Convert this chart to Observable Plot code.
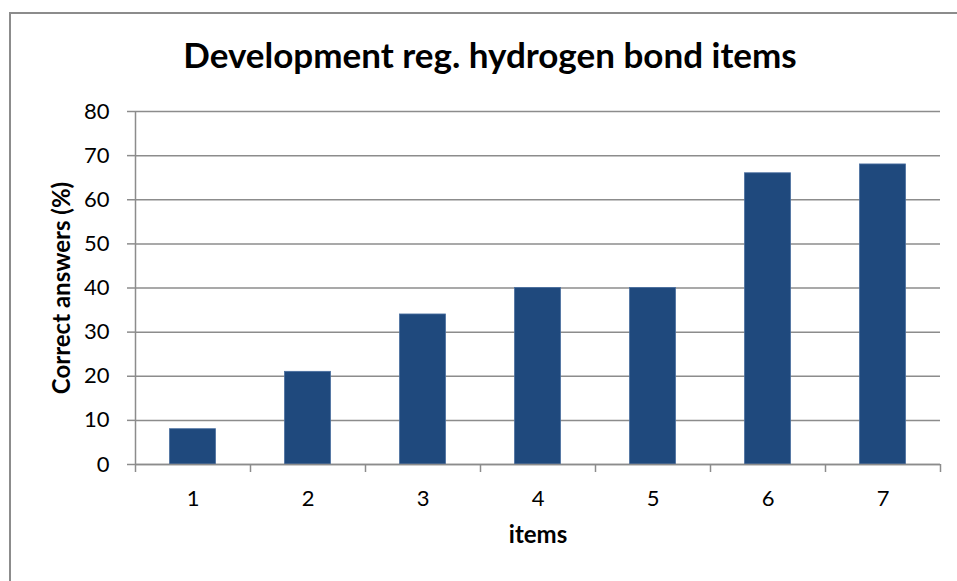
<!DOCTYPE html>
<html>
<head>
<meta charset="utf-8">
<script src="https://cdn.jsdelivr.net/npm/d3@7"></script>
<script src="https://cdn.jsdelivr.net/npm/@observablehq/plot@0.6"></script>
<style>
  html, body { margin: 0; padding: 0; background: #fff; overflow: hidden; }
  #wrap { position: relative; width: 957px; height: 581px; font-family: Lato, "Open Sans", sans-serif; }
  #border { position: absolute; left: 9px; top: 12px; width: 1000px; height: 1000px; border: 2px solid #8c8c8c; box-sizing: border-box; }
  #title { position: absolute; left: 0; width: 980px; top: 33px; text-align: center; font-size: 35px; line-height: 42px; font-weight: bold; color: #000; }
  #chart { position: absolute; left: 0; top: 0; }
</style>
</head>
<body>
<div id="wrap">
  <div id="border"></div>
  <div id="title">Development reg. hydrogen bond items</div>
  <div id="chart"></div>
</div>
<script>
const items = [1, 2, 3, 4, 5, 6, 7];
const correct = [8, 21, 34, 40, 40, 66, 68];
const yTicks = [0, 10, 20, 30, 40, 50, 60, 70, 80];
const xBoundaries = [0.5, 1.5, 2.5, 3.5, 4.5, 5.5, 6.5, 7.5];
const yLabel = "Correct answers (%)";
const xLabel = "items";

const data = items.map((d, i) => ({item: d, value: correct[i]}));
const grid = "#8c8c8c";

const chart = Plot.plot({
  width: 957,
  height: 581,
  marginLeft: 135,
  marginRight: 17,
  marginTop: 111,
  marginBottom: 117,
  style: {fontFamily: "Lato, 'Open Sans', sans-serif", background: "transparent"},
  x: {type: "linear", domain: [0.5, 7.5]},
  y: {domain: [0, 80]},
  marks: [
    Plot.gridY(yTicks, {stroke: grid, strokeOpacity: 1, strokeWidth: 1.5}),
    Plot.rectY(data, {x1: d => d.item - 0.2, x2: d => d.item + 0.2, y: "value", fill: "#1f497d", stroke: "#4a6fa0", strokeWidth: 0.8}),
    Plot.ruleX([0.5], {stroke: grid, strokeWidth: 1.5}),
    Plot.ruleY([0], {stroke: grid, strokeWidth: 1.5}),
    Plot.axisY({ticks: yTicks, tickSize: 8, tickPadding: 18, stroke: grid, strokeWidth: 1.5, fontSize: 22, fill: "#000", label: null}),
    Plot.axisX({ticks: xBoundaries, tickSize: 8, tickFormat: () => "", stroke: grid, strokeWidth: 1.5, label: null}),
    Plot.axisX({ticks: items, tickSize: 0, tickPadding: 26, tickFormat: d => String(d), fontSize: 22, fill: "#000", label: null}),
    Plot.text([yLabel], {frameAnchor: "left", textAnchor: "middle", dx: -73, rotate: -90, fontWeight: "bold", fontSize: 24, fill: "#000"}),
    Plot.text([xLabel], {frameAnchor: "bottom", dy: 78, fontWeight: "bold", fontSize: 24, fill: "#000"})
  ]
});
document.getElementById("chart").appendChild(chart);
</script>
</body>
</html>
